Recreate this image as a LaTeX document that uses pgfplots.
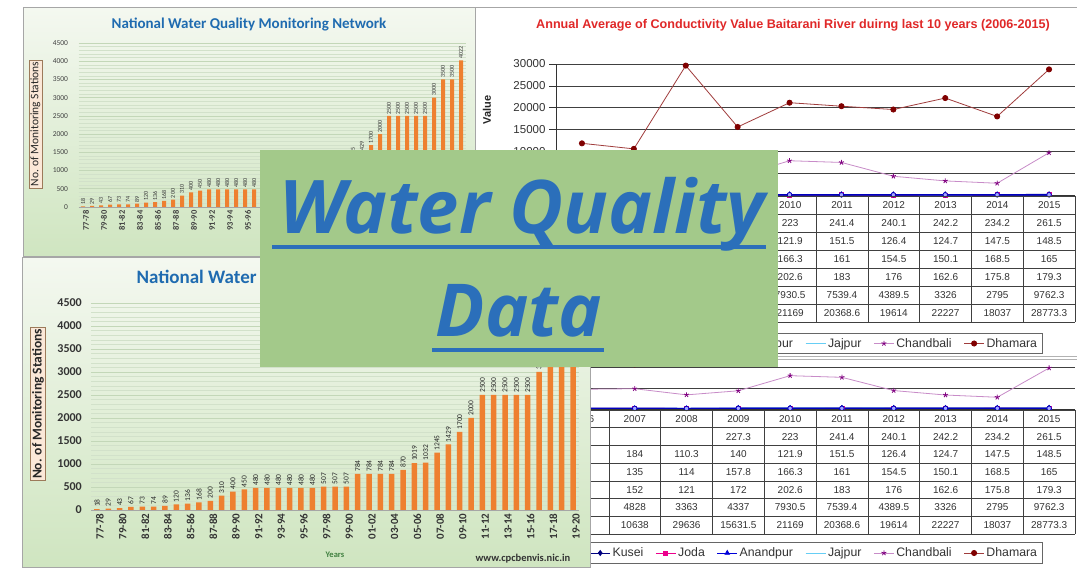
\documentclass[border=0pt]{standalone}
\usepackage{fontspec}
\usepackage{pgfplots}
\usepackage{pgfplotstable}
\pgfplotsset{compat=1.18}
\setmainfont{Liberation Sans}
\newfontfamily\carlito{Carlito}
\newfontfamily\arial{Liberation Sans}
\newfontfamily\opensans{Open Sans}
\newcommand{\fs}[1]{\fontsize{#1}{#1}\selectfont}
\definecolor{barorange}{HTML}{EE8030}
\definecolor{boxgreen}{HTML}{A3C98A}
\definecolor{wqblue}{HTML}{2B6FBA}
\definecolor{titleblue}{HTML}{1F6BB0}
\definecolor{titlered}{HTML}{E02828}
\definecolor{dham}{HTML}{800000}
\definecolor{dhamline}{HTML}{A03C3C}
\definecolor{chand}{HTML}{800080}
\definecolor{chandline}{HTML}{C88CC8}
\definecolor{gridc}{HTML}{C3D7B8}
\definecolor{pantop}{HTML}{F4F8F0}
\definecolor{panbot}{HTML}{CFE5C0}
\definecolor{lblfill}{HTML}{FBE8D8}
\definecolor{lbldraw}{HTML}{9C7A5A}
\pgfplotsset{/pgf/number format/1000 sep={}}

\pgfplotstableread{
x y
0 18
1 29
2 43
3 67
4 73
5 74
6 89
7 120
8 136
9 168
10 200
11 310
12 400
13 450
14 480
15 480
16 480
17 480
18 480
19 480
20 507
21 507
22 507
23 784
24 784
25 784
26 784
27 870
28 1019
29 1032
30 1245
31 1429
32 1700
33 2000
34 2500
35 2500
36 2500
37 2500
38 2500
39 3000
40 3500
41 3500
42 4022
}\stations

\pgfplotstableread{
x Kusei Joda Anandpur Jajpur Chandbali Dhamara
0 nan 150 140 160 4700 11900
1 nan 184 135 152 4828 10638
2 nan 110.3 114 121 3363 29636
3 227.3 140 157.8 172 4337 15631.5
4 223 121.9 166.3 202.6 7930.5 21169
5 241.4 151.5 161 183 7539.4 20368.6
6 240.1 126.4 154.5 176 4389.5 19614
7 242.2 124.7 150.1 162.6 3326 22227
8 234.2 147.5 168.5 175.8 2795 18037
9 261.5 148.5 165 179.3 9762.3 28773.3
}\cond

\pgfplotsset{
  stationaxis/.style={
    scale only axis, xmin=-0.5, xmax=42.5, ymin=0, ymax=4500,
    ybar, axis lines*=left, x axis line style={gray!70}, y axis line style={draw=none},
    major tick length=0pt, minor tick length=0pt,
    xtick={0,2,...,42},
    xticklabels={77-78,79-80,81-82,83-84,85-86,87-88,89-90,91-92,93-94,95-96,97-98,99-00,01-02,03-04,05-06,07-08,09-10,11-12,13-14,15-16,17-18,19-20},
    ytick={0,500,...,4500}, minor y tick num=4,
    ymajorgrids, yminorgrids,
    major grid style={draw=gridc, line width=0.6pt},
    minor grid style={draw=gridc!75, line width=0.5pt},
    /pgf/number format/assume math mode=true,
    nodes near coords,
  },
  condaxis/.style={
    scale only axis, xmin=-0.5, xmax=9.5, ymin=0, ymax=30000,
    xtick=\empty, ytick={0,5000,...,30000}, scaled y ticks=false,
    axis lines*=left, axis line style={black!80, line width=0.8pt},
    tick align=outside, major tick length=7pt, tick style={black!80, line width=0.8pt},
    ymajorgrids, major grid style={black!75, line width=0.7pt},
    tick label style={font=\arial\fs{11.5}, text=black!80},
    /pgf/number format/assume math mode=true,
    legend columns=6,
    legend image code/.code={\draw[mark repeat=2,mark phase=2] plot coordinates {(0pt,0pt) (10pt,0pt) (20pt,0pt)};},
    legend style={anchor=center, draw=black!60, line width=1pt, fill=white,
      font=\arial\fs{12.3}, text=black!80, inner sep=3pt,
      /tikz/every even column/.append style={column sep=10pt}},
  },
}

\newcommand{\tabrow}[4]{\foreach \v [count=\i from 0] in {#4} \node[font=\arial\fs{10}, text=black!80] at ({583+51.8*\i},{569-#1-(#3+0.5)*#2}) {\v};}
\newcommand{\drawtable}[2]{%
  \foreach \k in {0,...,7} \draw[black!75, line width=0.6pt] (557,{569-#1-#2*\k}) -- (1075,{569-#1-#2*\k});
  \foreach \k in {0,...,10} \draw[black!75, line width=0.6pt] ({557+51.8*\k},{569-#1}) -- ({557+51.8*\k},{569-#1-7*#2});
  \tabrow{#1}{#2}{0}{2006,2007,2008,2009,2010,2011,2012,2013,2014,2015}
  \tabrow{#1}{#2}{1}{{},{},{},227.3,223,241.4,240.1,242.2,234.2,261.5}
  \tabrow{#1}{#2}{2}{{},184,110.3,140,121.9,151.5,126.4,124.7,147.5,148.5}
  \tabrow{#1}{#2}{3}{{},135,114,157.8,166.3,161,154.5,150.1,168.5,165}
  \tabrow{#1}{#2}{4}{{},152,121,172,202.6,183,176,162.6,175.8,179.3}
  \tabrow{#1}{#2}{5}{{},4828,3363,4337,7930.5,7539.4,4389.5,3326,2795,9762.3}
  \tabrow{#1}{#2}{6}{{},10638,29636,15631.5,21169,20368.6,19614,22227,18037,28773.3}
}
\newcommand{\condplots}{%
  \addplot[color=blue!50!black, line width=0.8pt, mark=diamond*, mark size=2.5pt] table[x=x,y=Kusei] \cond;
  \addplot[color=magenta, line width=0.8pt, mark=square*, mark size=2pt] table[x=x,y=Joda] \cond;
  \addplot[color=blue!85!black, line width=0.8pt, mark=triangle*, mark size=2.5pt] table[x=x,y=Anandpur] \cond;
  \addplot[color=cyan!60, line width=1pt, mark=none] table[x=x,y=Jajpur] \cond;
  \addplot[forget plot, color=blue!75!black, line width=1.5pt, mark=*, mark size=2.3pt, mark options={fill=blue!35, draw=blue!75!black, line width=0.8pt}] table[x=x,y=Anandpur] \cond;
  \addplot[color=chandline, line width=0.8pt, mark=star, mark size=2.6pt, mark options={draw=chand}] table[x=x,y=Chandbali] \cond;
  \addplot[color=dhamline, line width=0.8pt, mark=*, mark size=2.6pt, mark options={draw=dham, fill=dham}] table[x=x,y=Dhamara] \cond;
  \legend{Kusei,Joda,Anandpur,Jajpur,Chandbali,Dhamara}
}

\begin{document}
\begin{tikzpicture}[x=1pt,y=1pt]
\path[use as bounding box] (0,0) rectangle (1077,569);
\clip (0,0) rectangle (1077,569);
\fill[white] (0,0) rectangle (1077,569);

% ---------- bottom-right chart ----------
\begin{axis}[condaxis, at={(557pt,160pt)}, anchor=south west, width=518pt, height=126pt,
  legend style={at={(0.497,-1.143)}}]
\condplots
\end{axis}
\drawtable{410}{17.71}

% ---------- top-right chart ----------
\fill[white] (473,{569-358}) rectangle (1077,{569-8});
\begin{axis}[condaxis, at={(556pt,373.5pt)}, anchor=south west, width=519pt, height=131.5pt,
  ylabel={Value}, ylabel style={at={(axis description cs:-0.133,0.65)}, anchor=center, font=\arial\bfseries\fs{11}, text=black!85},
  legend style={at={(0.498,-1.1255)}}]
\condplots
\end{axis}
\drawtable{196}{18}
\node[font=\arial\bfseries\fs{12.6}, text=titlered] at (793,{569-25}) {Annual Average of Conductivity Value Baitarani River duirng last 10 years (2006-2015)};
\draw[gray!70, line width=1pt] (473,{569-8}) -- (1077,{569-8});
\draw[gray!70, line width=1pt] (473,{569-8}) -- (473,{569-358});
\draw[gray!60, line width=1pt] (473,{569-357}) -- (1077,{569-357});
\draw[gray!60, line width=1pt] (473,{569-360}) -- (1077,{569-360});

% ---------- top-left chart ----------
\shade[top color=pantop, bottom color=panbot] (23,{569-257}) rectangle (475,{569-8});
\begin{axis}[stationaxis, at={(78.5pt,362pt)}, anchor=south west, width=387pt, height=164pt,
  bar width=4pt,
  xticklabel style={rotate=90, anchor=east, yshift=-3pt, font=\carlito\bfseries\fs{8.5}, text=black!75},
  yticklabel style={xshift=-7pt, font=\carlito\fs{7.5}, text=black!75},
  every node near coord/.append style={rotate=90, anchor=west, font=\carlito\fs{6}, text=black!80, inner sep=1.5pt}]
\addplot[fill=barorange, draw=none] table[x=x,y=y] \stations;
\end{axis}
\node[font=\carlito\bfseries\fs{15}, text=titleblue, anchor=base] at (249,{569-29}) {National Water Quality Monitoring Network};
\node[rotate=90, font=\carlito\fs{11.5}, text=black!85, fill=lblfill, draw=lbldraw, inner sep=1.5pt] at (35.5,{569-124}) {No. of Monitoring Stations};
\draw[gray!70, line width=1pt] (23,{569-257}) rectangle (475,{569-8});

% ---------- bottom-left chart ----------
\shade[top color=pantop, bottom color=panbot] (22,{569-568}) rectangle (590,{569-258});
\begin{axis}[stationaxis, at={(91.3pt,59pt)}, anchor=south west, width=487.4pt, height=207pt,
  bar width=5.5pt,
  xticklabel style={rotate=90, anchor=east, yshift=-3pt, font=\carlito\bfseries\fs{11}, text=black!80},
  yticklabel style={xshift=-6pt, font=\carlito\bfseries\fs{12}, text=black!80},
  every node near coord/.append style={rotate=90, anchor=west, font=\carlito\fs{7.5}, text=black!85, inner sep=2pt}]
\addplot[fill=barorange, draw=none] table[x=x,y=y] \stations;
\end{axis}
\node[font=\carlito\bfseries\fs{19}, text=titleblue, anchor=base west] at (133,{569-284}) {National Water Quality Monitoring Network};
\node[rotate=90, font=\carlito\bfseries\fs{13.5}, text=black!85, fill=lblfill, draw=lbldraw, inner sep=1.5pt] at (38,{569-404}) {No. of Monitoring Stations};
\node[font=\carlito\bfseries\fs{8.5}, text=black!50!green!50!gray] at (335,{569-555}) {Years};
\node[font=\carlito\bfseries\fs{10.5}, text=black!80, anchor=base west] at (472,{569-562}) {www.cpcbenvis.nic.in};
\draw[gray!70, line width=1pt] (22,{569-568}) rectangle (590,{569-258});

% ---------- green title box ----------
\fill[boxgreen] (260,{569-367}) rectangle (778,{569-150});
\node[anchor=base, inner sep=0pt, font=\opensans\bfseries\itshape\fs{74}, text=wqblue] at (522,{569-234}) {Water Quality};
\fill[wqblue] (272,{569-249}) rectangle (766,{569-245});
\node[anchor=base, inner sep=0pt, font=\opensans\bfseries\itshape\fs{73}, text=wqblue] at (519,{569-337}) {Data};
\fill[wqblue] (432,{569-352}) rectangle (604,{569-348});
\end{tikzpicture}
\end{document}
